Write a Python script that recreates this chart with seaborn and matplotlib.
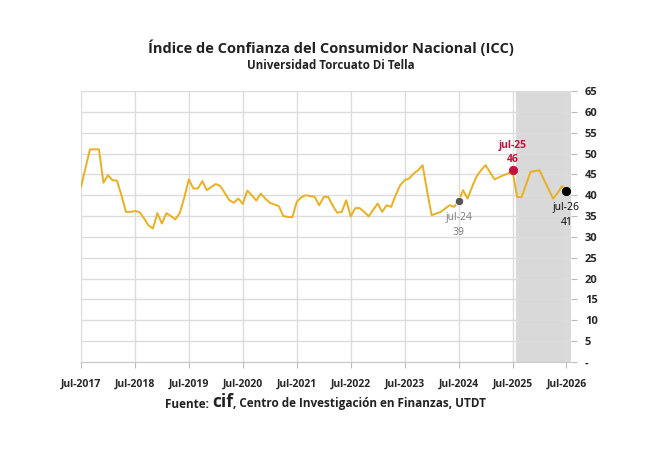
import numpy as np
import pandas as pd
import matplotlib
matplotlib.use("Agg")
import matplotlib.pyplot as plt
import seaborn as sns

# ICC monthly values, Jul-2017 .. Jul-2026
icc = [42, 46.5, 51, 51, 51, 43, 44.8, 43.6, 43.5, 40,
       36, 36, 36.2, 36, 34.5, 32.8, 32, 35.7, 33.2, 35.7,
       35, 34.2, 35.8, 39.5, 43.8, 41.6, 41.6, 43.4, 41.2, 42,
       42.7, 42.2, 40.5, 38.8, 38.2, 39.2, 37.9, 41.1, 40, 38.7,
       40.4, 39.2, 38.2, 37.8, 37.4, 35, 34.8, 34.7, 38.4, 39.5,
       40, 39.8, 39.6, 37.6, 39.6, 39.6, 37.5, 35.8, 36, 38.8,
       34.9, 36.9, 36.9, 36, 34.9, 36.5, 38, 36, 37.6, 37.2,
       40, 42.4, 43.6, 44, 45.2, 46, 47.2, 41, 35.2, 35.6,
       36, 36.8, 37.6, 37.2, 38.6, 41.2, 39.2, 42, 44.5, 46,
       47.2, 45.5, 43.8, 44.3, 44.8, 45.2, 46, 39.6, 39.5, 42.5,
       45.6, 45.8, 46, 43.7, 41.5, 39.2, 40.5, 42.2, 41]
x_labels = ["Jul-2017", "Jul-2018", "Jul-2019", "Jul-2020", "Jul-2021",
            "Jul-2022", "Jul-2023", "Jul-2024", "Jul-2025", "Jul-2026"]
y_ticks = list(range(0, 70, 5))
y_labels = ["-"] + [str(v) for v in y_ticks[1:]]
shade_start = 96.8
highlights = [("jul-24", 84, "#7a7a7a", "#555555"),
              ("jul-25", 96, "#c0143c", "#c0143c"),
              ("jul-26", 108, "black", "black")]

df = pd.DataFrame({"month": np.arange(len(icc)), "icc": icc})

sns.set_style("whitegrid")
plt.rcParams["font.family"] = ["Open Sans", "DejaVu Sans"]

fig = plt.figure(figsize=(6.61, 4.5), dpi=100)
ax = fig.add_axes([0.1225, 0.1956, 0.7413, 0.6022])

ax.axvspan(shade_start, 109, color="#d9d9d9", zorder=0.5, lw=0)
sns.lineplot(data=df, x="month", y="icc", ax=ax, color="#eab020", lw=1.4, zorder=2)

for lab, m, tcol, mcol in highlights:
    v = icc[m]
    ax.plot(m, v, "o", ms=6, color=mcol, mec="white" if m == 84 else mcol,
            mew=0.6, zorder=3)
    if m == 96:
        ax.annotate(lab, (m, v), xytext=(0, 18), textcoords="offset points",
                    ha="center", va="center", fontsize=7.5, color=tcol, fontweight="bold")
        ax.annotate(f"{v:.0f}", (m, v), xytext=(0, 8), textcoords="offset points",
                    ha="center", va="center", fontsize=7.5, color=tcol, fontweight="bold")
    else:
        ax.annotate(lab, (m, v), xytext=(0, -12), textcoords="offset points",
                    ha="center", va="center", fontsize=7.5, color=tcol)
        ax.annotate(f"{v:.0f}", (m, v), xytext=(0, -23), textcoords="offset points",
                    ha="center", va="center", fontsize=7.5, color=tcol)

ax.set_xlim(0, 109)
ax.set_ylim(0, 65)
ax.set_xticks(np.arange(len(x_labels)) * 12)
ax.set_xticklabels(x_labels, fontsize=7.5, fontweight="bold")
ax.set_yticks(y_ticks)
ax.set_yticklabels(y_labels, fontsize=8, fontweight="bold")
ax.yaxis.tick_right()
ax.tick_params(axis="x", length=4, color="#bbbbbb", pad=8, direction="out", bottom=True)
ax.tick_params(axis="y", length=4, color="#bbbbbb", pad=6, direction="out", right=True, left=False)
ax.grid(color="#dcdcdc", lw=1)
ax.set_xlabel("")
ax.set_ylabel("")
for s in ["top", "right", "left"]:
    ax.spines[s].set_visible(False)
ax.spines["bottom"].set_color("#c8c8c8")

fig.text(0.5, 0.895, "Índice de Confianza del Consumidor Nacional (ICC)",
         ha="center", va="center", fontsize=10.5, fontweight="bold", color="#222222")
fig.text(0.5, 0.855, "Universidad Torcuato Di Tella",
         ha="center", va="center", fontsize=8.3, fontweight="bold", color="#222222")

t1 = fig.text(0.25, 0.093, "Fuente: ", ha="left", va="baseline",
              fontsize=8.5, fontweight="bold", color="#222222")
t2 = ax.annotate("cif", xy=(1, 0), xycoords=t1, va="bottom", ha="left",
                 fontsize=12.5, fontweight="bold", color="#222222")
ax.annotate(", Centro de Investigación en Finanzas, UTDT", xy=(1, 0), xycoords=t2,
            xytext=(0, 1), textcoords="offset points", va="bottom", ha="left",
            fontsize=8.5, fontweight="bold", color="#222222")

fig.savefig("out.png", dpi=100)
